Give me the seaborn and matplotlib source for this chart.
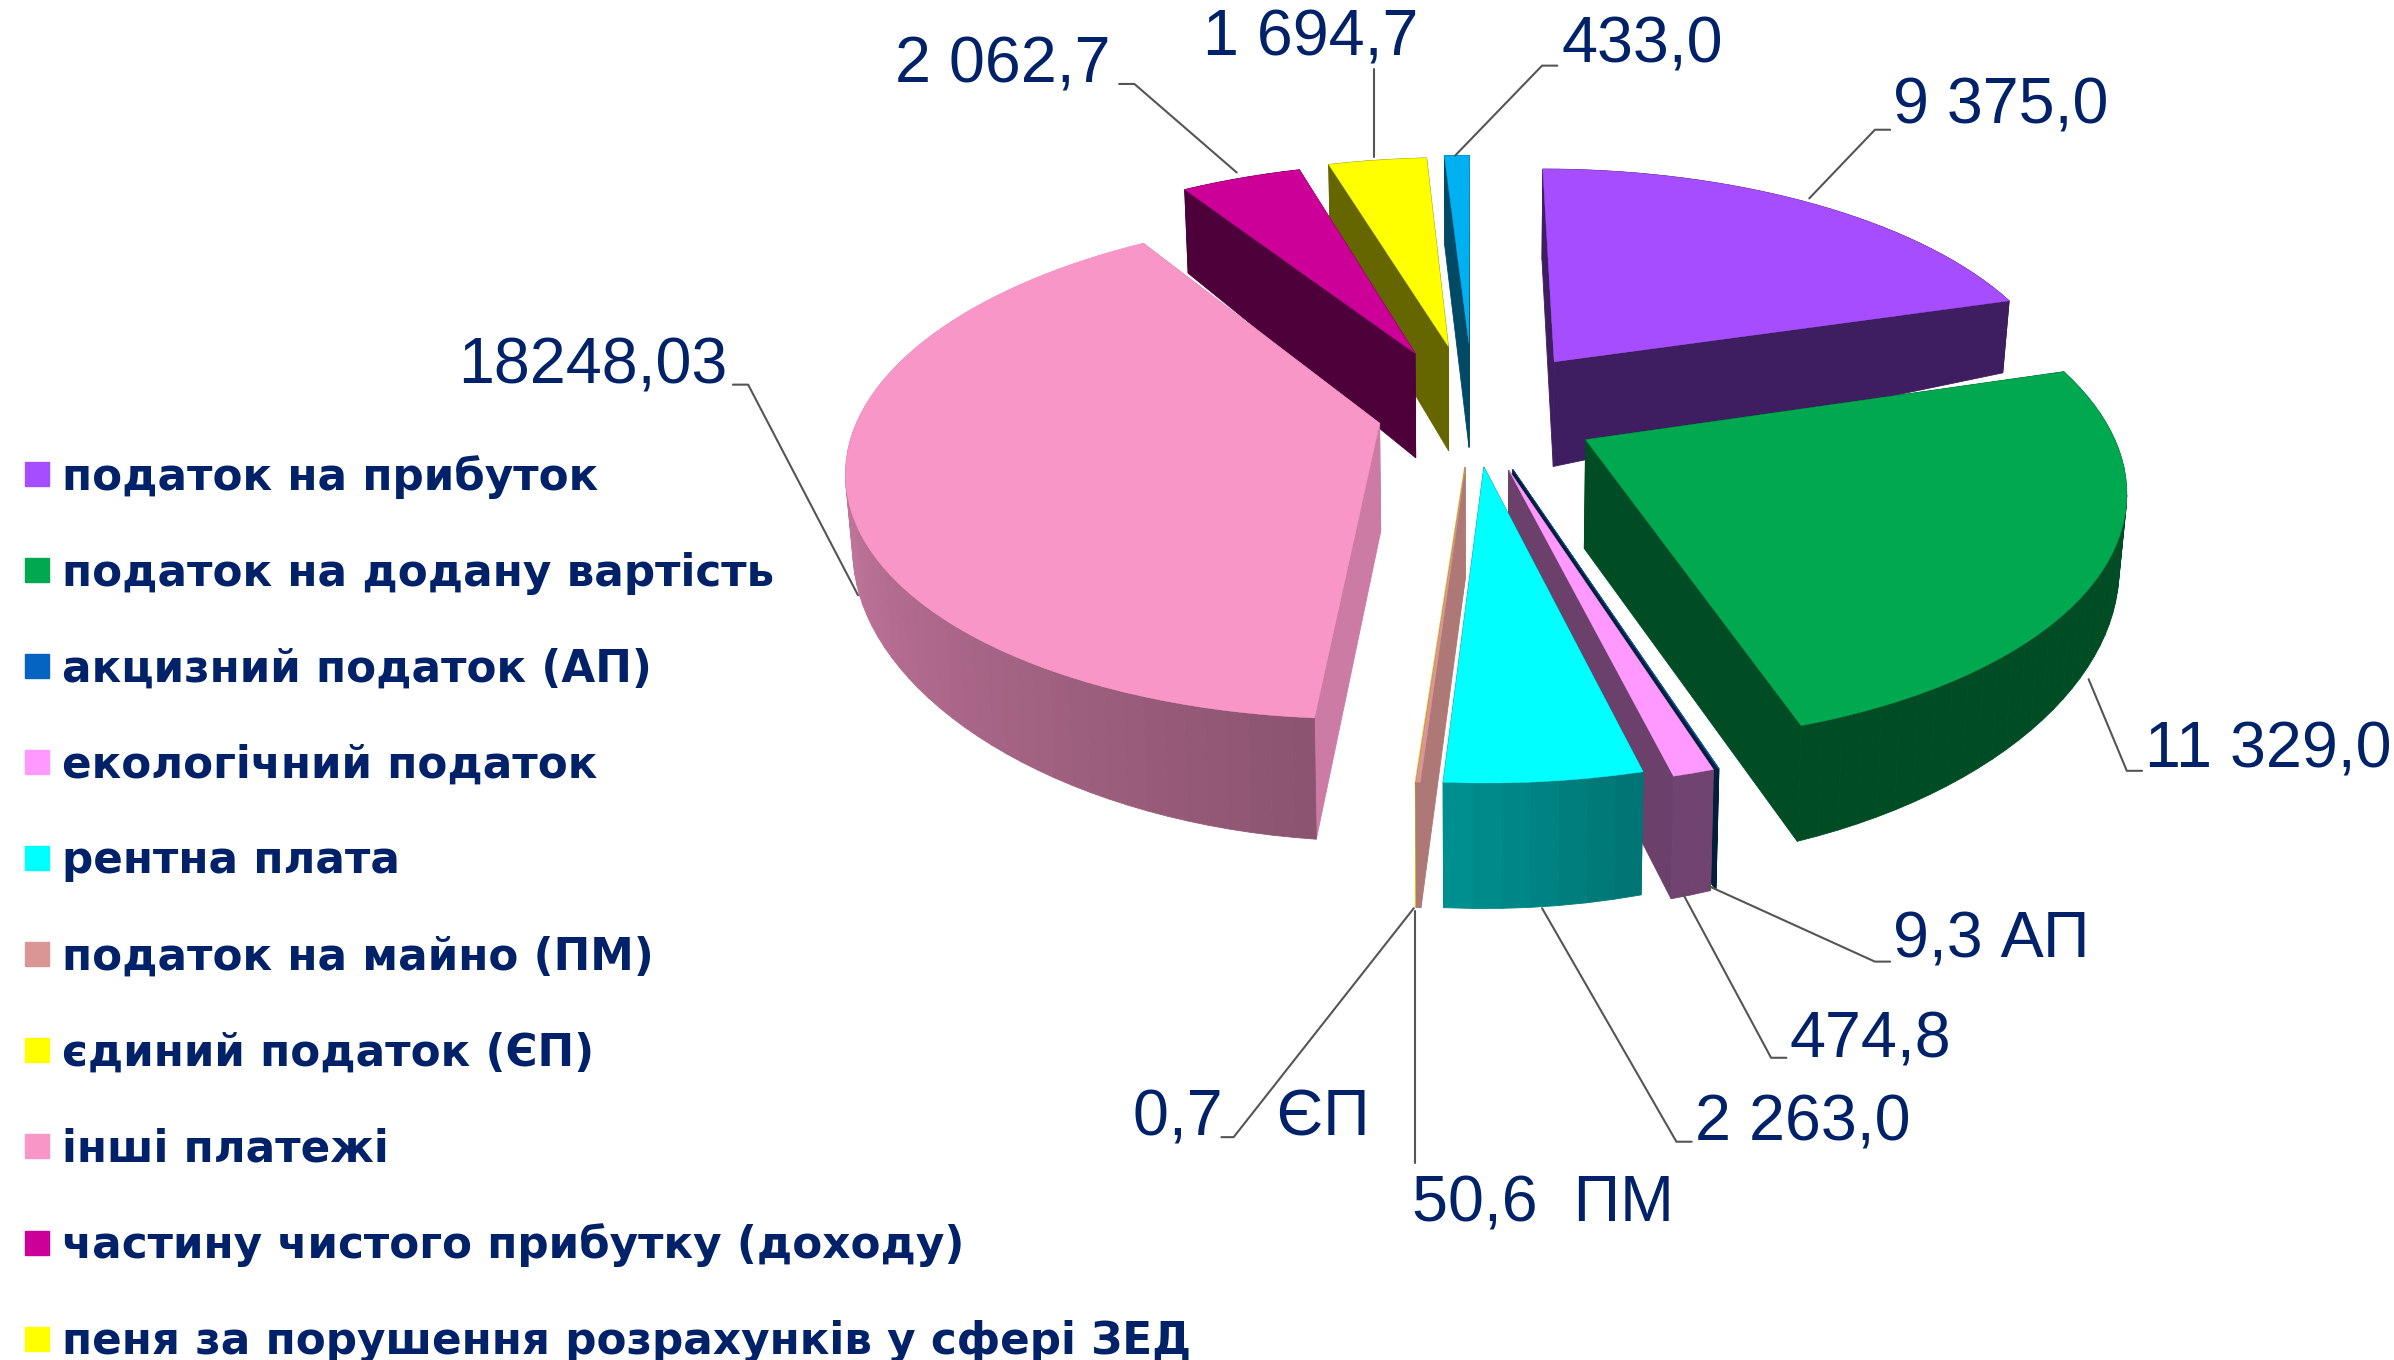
import numpy as np
import matplotlib
matplotlib.use("Agg")
import matplotlib.pyplot as plt
from matplotlib.lines import Line2D
import seaborn as sns

categories = ["податок на прибуток", "податок на додану вартість", "акцизний податок (АП)",
              "екологічний податок", "рентна плата", "податок на майно (ПМ)",
              "єдиний податок (ЄП)", "інші платежі", "частину чистого прибутку (доходу)",
              "пеня за порушення розрахунків у сфері ЗЕД", "інші"]
values = [9375.0, 11329.0, 9.3, 474.8, 2263.0, 50.6, 0.7, 18248.03, 2062.7, 1694.7, 433.0]
value_labels = ["9 375,0", "11 329,0", "9,3 АП", "474,8", "2 263,0", "50,6  ПМ", "0,7   ЄП",
                "18248,03", "2 062,7", "1 694,7", "433,0"]
colors = ["#A64DFF", "#00A84F", "#0563C1", "#FF99FF", "#00FFFF", "#D99694",
          "#FFFF00", "#F996C8", "#CC0099", "#FFFF00", "#00B0F0"]

explode = [0.27, 0.24, 0.24, 0.24, 0.22, 0.22, 0.22, 0.185, 0.28, 0.29, 0.30]
# shade: wall at start angle, wall at end angle, radial faces
shades = [(.38, .38, .38), (.45, .45, .45), (.30, .30, .30), (.44, .44, .42), (.45, .57, .45),
          (.80, .80, .80), (.8, .8, .8), (.56, 1.0, .82), (.32, .32, .38), (.40, .40, .40), (.42, .42, .42)]
draw_order = [10, 9, 8, 0, 7, 1, 2, 3, 6, 5, 4]

sns.set_theme(style="white")
plt.rcParams["font.family"] = ["Liberation Sans", "DejaVu Sans"]
navy = "#012169"
leader = "#555555"

fig = plt.figure(figsize=(23.94, 13.60), dpi=100)
ax = fig.add_axes([0, 0, 1, 1])
ax.set_xlim(0, 1568)
ax.set_ylim(891, 0)
ax.axis("off")

cx, cy, rx, ry, k = 965, 270, 340, 158, 0.17


def project(x, y, z):
    s = 1 / (1 + k * y)
    sx = cx + rx * x * s
    sy = cy - ry * y * s
    d = 71 * (1 - 0.13 * y) * (1 - 0.23 * x * x)
    return cx + (sx - cx) * (1 - 0.012 * z), sy + z * d


def shade(col, f):
    return tuple(np.array(matplotlib.colors.to_rgb(col)) * f)


total = sum(values)
edges = np.concatenate([[0], np.cumsum(values)]) / total * 2 * np.pi

for i in draw_order:
    a0, a1 = edges[i], edges[i + 1]
    mid = (a0 + a1) / 2
    ax0, ay0 = explode[i] * np.sin(mid), explode[i] * np.cos(mid)
    th = np.linspace(a0, a1, max(3, int((a1 - a0) / 0.035)))
    ox, oy = ax0 + np.sin(th), ay0 + np.cos(th)
    f0, f1, ff = shades[i]
    faces = []
    for j in range(len(th) - 1):
        f = f0 + (f1 - f0) * (j + 0.5) / (len(th) - 1)
        wx = [ox[j], ox[j + 1], ox[j + 1], ox[j]]
        wy = [oy[j], oy[j + 1], oy[j + 1], oy[j]]
        faces.append(((oy[j] + oy[j + 1]) / 2, wx, wy, f))
    for t in (0, -1):
        faces.append(((ay0 + oy[t]) / 2, [ax0, ox[t], ox[t], ax0], [ay0, oy[t], oy[t], ay0], ff))
    for _, wx, wy, f in sorted(faces, key=lambda q: -q[0]):
        px, py = project(np.array(wx), np.array(wy), np.array([0, 0, 1, 1]))
        c = shade(colors[i], f)
        ax.fill(px, py, color=c, lw=0.6, zorder=2)
    px, py = project(np.r_[ax0, ox], np.r_[ay0, oy], 0)
    ax.fill(px, py, color=colors[i], lw=0.3, zorder=2)

# data labels: text position and leader polyline, in axes units
label_layout = [
    (1240, 70, [(1238, 85), (1228, 85), (1185, 130)]),
    (1405, 492, [(1403, 505), (1393, 505), (1368, 445)]),
    (1240, 616, [(1238, 630), (1228, 630), (1118, 580)]),
    (1172, 682, [(1170, 693), (1160, 693), (1102, 585)]),
    (1110, 736, [(1108, 748), (1098, 748), (1010, 595)]),
    (925, 789, [(927, 762), (927, 597)]),
    (742, 733, [(800, 745), (808, 745), (926, 595)]),
    (300, 240, [(480, 252), (490, 252), (562, 390)]),
    (586, 43, [(733, 55), (743, 55), (810, 113)]),
    (788, 25, [(900, 45), (900, 103)]),
    (1023, 30, [(1020, 43), (1010, 43), (953, 102)]),
]
for txt, (tx, ty, line) in zip(value_labels, label_layout):
    ax.text(tx, ty, txt, fontsize=46.5, color=navy, va="center", ha="left", zorder=4)
    xs, ys = zip(*line)
    ax.plot(xs, ys, color=leader, lw=1.5, zorder=3, solid_capstyle="round")

handles = [Line2D([], [], ls="none", marker="s", markersize=17, color=c) for c in colors[:10]]
ax.legend(handles, categories[:10], loc="upper left", bbox_to_anchor=(14, 298),
          bbox_transform=ax.transData, frameon=False, labelcolor=navy,
          prop={"family": "DejaVu Sans", "weight": "bold", "size": 31.5},
          handlelength=0.7, handletextpad=0.22, borderpad=0, borderaxespad=0, labelspacing=1.21)

fig.savefig("out.png", dpi=100, facecolor="white")
